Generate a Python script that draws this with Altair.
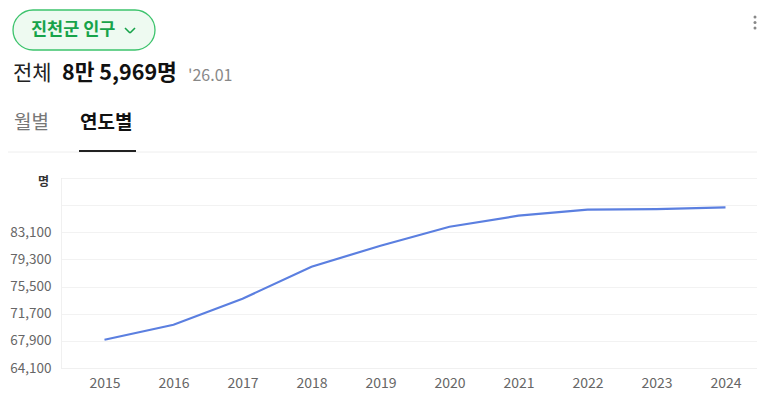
import altair as alt
import pandas as pd

years = [2015, 2016, 2017, 2018, 2019, 2020, 2021, 2022, 2023, 2024]
population = [68060, 70160, 73800, 78280, 81220, 83880, 85420, 86260, 86330, 86580]
y_ticks = [64100, 67900, 71700, 75500, 79300, 83100, 86900, 90700]

FONT = "Noto Sans CJK KR"
df = pd.DataFrame({"year": years, "pop": population})
one = pd.DataFrame({"a": [0]})

# plot origin in page coordinates: (61, 178)
def px(x):
    return x - 61

def py(y):
    return y - 178

PLOT_W = 696
STEP = 69.0
D0 = 2015 - 43.5 / STEP
D1 = D0 + PLOT_W / STEP

xscale = alt.Scale(domain=[D0, D1], nice=False, zero=False)
yscale = alt.Scale(domain=[64100, 90700], nice=False, zero=False)

line = alt.Chart(df).mark_line(color="#5b7fe0", strokeWidth=2.2).encode(
    x=alt.X("year:Q", scale=xscale,
            axis=alt.Axis(values=years, format="d", title=None, grid=False, ticks=False,
                          domain=True, domainColor="#f0f0f0", labelFontSize=14,
                          labelColor="#666666", labelPadding=8, labelFont=FONT)),
    y=alt.Y("pop:Q", scale=yscale,
            axis=alt.Axis(values=y_ticks, title=None, ticks=False, domain=True,
                          domainColor="#f0f0f0", gridColor="#f2f2f2", labelFontSize=13.5,
                          labelColor="#666666", labelPadding=10, labelFont=FONT,
                          labelExpr="datum.value > 85000 ? '' : format(datum.value, ',')")),
)

unit = alt.Chart(one).mark_text(text="명", font=FONT, fontSize=12, fontWeight="bold",
                                color="#333333", align="right", baseline="middle").encode(
    x=alt.value(px(49)), y=alt.value(py(182)))

pill = alt.Chart(one).mark_rect(fill="#eefaf1", stroke="#3cc36c", strokeWidth=1.3,
                                cornerRadius=20).encode(
    x=alt.value(px(13)), x2=alt.value(px(155)), y=alt.value(py(10)), y2=alt.value(py(50)))
pill_text = alt.Chart(one).mark_text(text="진천군 인구", font=FONT, fontSize=17.5, fontWeight="bold",
                                     color="#17a34a", align="left", baseline="middle").encode(
    x=alt.value(px(31)), y=alt.value(py(30)))
chev1 = alt.Chart(one).mark_rule(color="#17a34a", strokeWidth=1.6).encode(
    x=alt.value(px(125)), y=alt.value(py(28)), x2=alt.value(px(130)), y2=alt.value(py(33)))
chev2 = alt.Chart(one).mark_rule(color="#17a34a", strokeWidth=1.6).encode(
    x=alt.value(px(130)), y=alt.value(py(33)), x2=alt.value(px(135)), y2=alt.value(py(28)))

t1 = alt.Chart(one).mark_text(text="전체", font=FONT, fontSize=21, color="#222222",
                              align="left", baseline="middle").encode(
    x=alt.value(px(13)), y=alt.value(py(74)))
t2 = alt.Chart(one).mark_text(text="8만 5,969명", font=FONT, fontSize=21.5, fontWeight="bold",
                              color="#111111", align="left", baseline="middle").encode(
    x=alt.value(px(62)), y=alt.value(py(74)))
t3 = alt.Chart(one).mark_text(text="'26.01", font=FONT, fontSize=16, color="#888888",
                              align="left", baseline="middle").encode(
    x=alt.value(px(188)), y=alt.value(py(76)))

tab1 = alt.Chart(one).mark_text(text="월별", font=FONT, fontSize=19, color="#777777",
                                align="left", baseline="middle").encode(
    x=alt.value(px(14)), y=alt.value(py(123)))
tab2 = alt.Chart(one).mark_text(text="연도별", font=FONT, fontSize=19, fontWeight="bold",
                                color="#111111", align="left", baseline="middle").encode(
    x=alt.value(px(80)), y=alt.value(py(123)))
sep = alt.Chart(one).mark_rule(color="#eeeeee", strokeWidth=1).encode(
    x=alt.value(px(0)), x2=alt.value(px(765)), y=alt.value(py(152)))
underline = alt.Chart(one).mark_rule(color="#222222", strokeWidth=2).encode(
    x=alt.value(px(79)), x2=alt.value(px(136)), y=alt.value(py(151)))

dots = []
for yy in (17, 22.5, 28):
    dots.append(alt.Chart(one).mark_circle(color="#888888", size=9, opacity=1).encode(
        x=alt.value(px(755)), y=alt.value(py(yy))))

chart = alt.layer(line, unit, pill, pill_text, chev1, chev2, t1, t2, t3, tab1, tab2, sep,
                  underline, *dots).properties(
    width=PLOT_W, height=190,
    autosize=alt.AutoSizeParams(type="none"),
    padding={"left": 53, "top": 170, "right": 0, "bottom": 24},
).configure_view(stroke=None).configure(background="white")

chart.save("out.html", embed_options={"renderer": "svg", "actions": False})
